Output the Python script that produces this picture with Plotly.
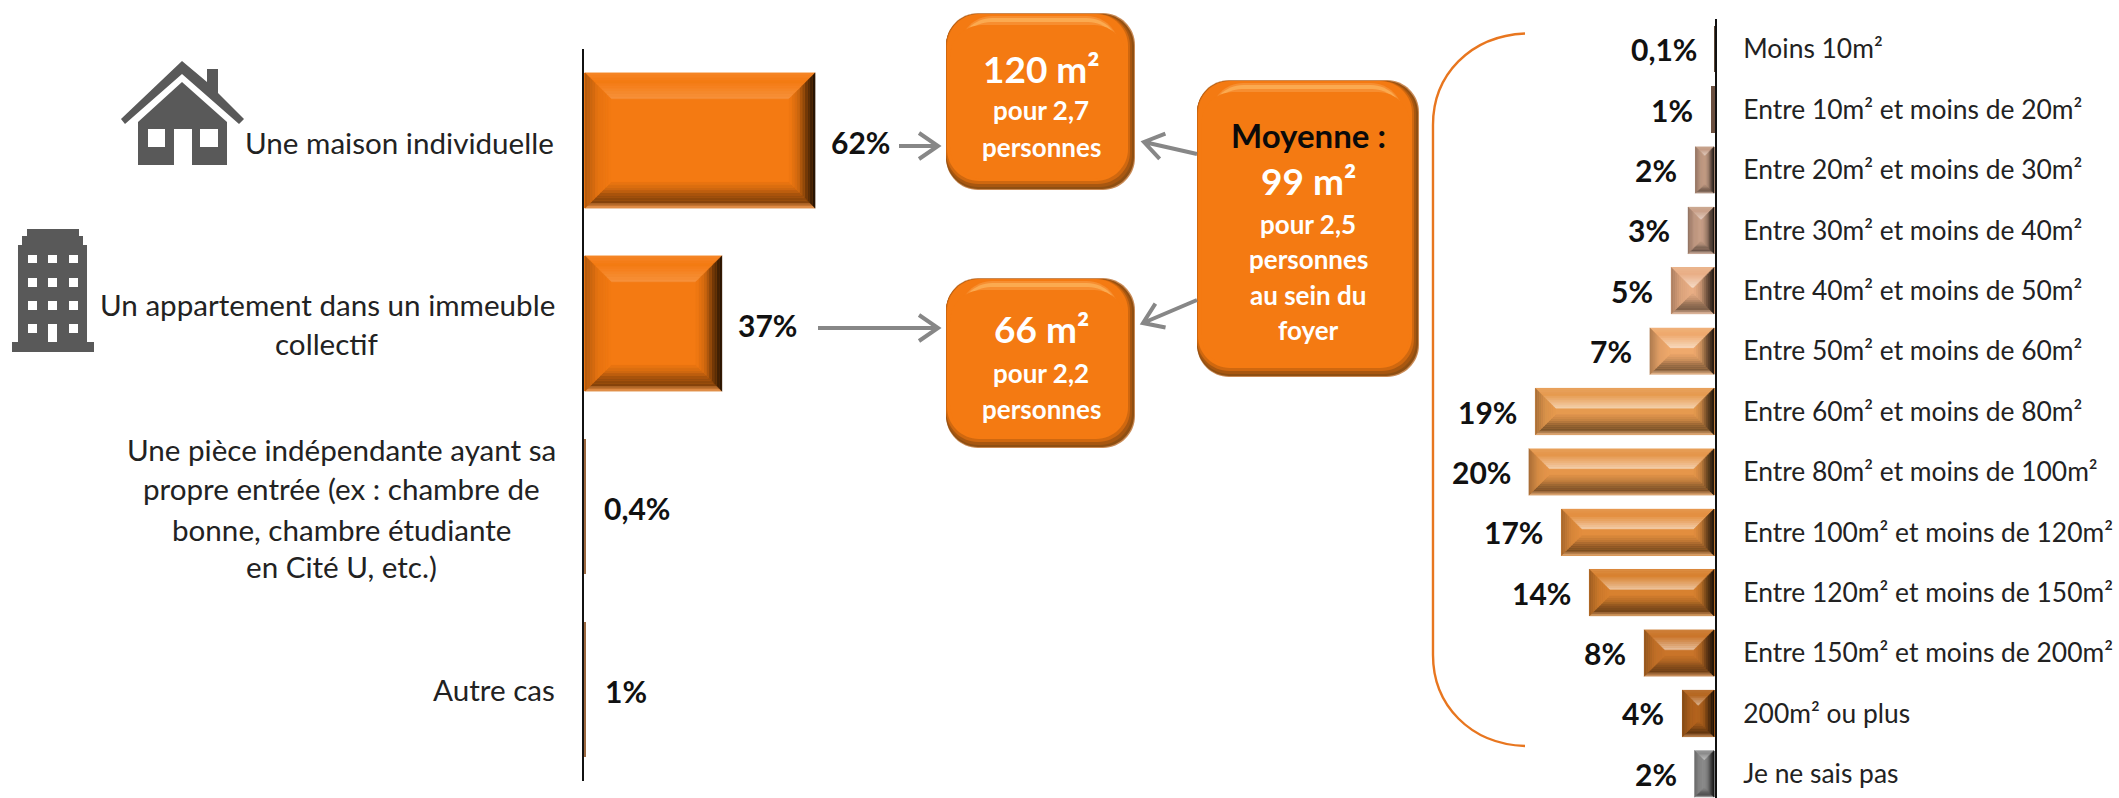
import math
import plotly.graph_objects as go

W, H = 2119, 798
FONT = "Lato"

# ---------- data ----------
type_labels = ["Une maison individuelle", "Un appartement dans un immeuble collectif",
               "Une pièce indépendante ayant sa propre entrée", "Autre cas"]
type_values = [62, 37, 0.4, 0.6]
type_text = ["62%", "37%", "0,4%", "1%"]

size_labels = ["Moins 10m²", "Entre 10m² et moins de 20m²", "Entre 20m² et moins de 30m²",
               "Entre 30m² et moins de 40m²", "Entre 40m² et moins de 50m²",
               "Entre 50m² et moins de 60m²", "Entre 60m² et moins de 80m²",
               "Entre 80m² et moins de 100m²", "Entre 100m² et moins de 120m²",
               "Entre 120m² et moins de 150m²", "Entre 150m² et moins de 200m²",
               "200m² ou plus", "Je ne sais pas"]
size_values = [0.05, 0.4, 2.1, 2.9, 4.7, 7.0, 19.3, 20.0, 16.5, 13.5, 7.6, 3.5, 2.2]
size_text = ["0,1%", "1%", "2%", "3%", "5%", "7%", "19%", "20%", "17%", "14%", "8%", "4%", "2%"]
size_colors = ["#5A4636", "#6B5040", "#C39C85", "#C9A088", "#E9AE85", "#EFA96C", "#E69A4F",
               "#E6964A", "#E38E3E", "#D8812F", "#C97429", "#B5651F", "#8C8C8C"]
type_colors = ["#F47A12", "#F47A12", "#9C6A42", "#9C6A42"]

# ---------- geometry ----------
L_X0, L_X1, L_MAX = 584, 880, 79.4
L_Y0, L_Y1 = 49, 781
R_X0, R_X1, R_MAX = 1500, 1715, 23.1
R_Y0, R_Y1, R_YMAX = 19, 798, 12.4


def px(x):
    return x / W


def py(y):
    return 1 - y / H


def hex2rgb(c):
    return tuple(int(c[i:i + 2], 16) for i in (1, 3, 5))


def mix(c, other, t):
    a, b = hex2rgb(c), hex2rgb(other)
    return "#%02X%02X%02X" % tuple(round(a[i] * (1 - t) + b[i] * t) for i in range(3))


def ramp(stops, t):
    n = len(stops) - 1
    p = min(t * n, n - 1e-6)
    i = int(p)
    return mix(stops[i], stops[i + 1], p - i)


shapes = []
annotations = []


def bevel(xref, yref, x_left, x_right, yc, half, sx, sy, depth, face, hi):
    """Bevel drawn over one bar. x_left / x_right are the on-screen sides; sx, sy = pixels per unit."""
    sign = 1 if x_right > x_left else -1
    y0, y1 = yc - half, yc + half
    wpx = abs(x_right - x_left) * sx
    hpx = (y1 - y0) * sy
    d = min(depth, wpx / 2, hpx / 2)
    dx, dy = sign * d / sx, d / sy
    K, WH = "#000000", "#FFFFFF"
    top = [mix(face, WH, .10), face, mix(face, WH, hi * .5), mix(face, WH, hi)]
    bottom = [mix(face, WH, .3), mix(face, K, .45), mix(face, K, .35), mix(face, K, .15), mix(face, K, .03)]
    left = [mix(face, K, .28), mix(face, K, .06), face]
    right = [mix(face, K, .88), mix(face, K, .55), mix(face, K, .15), face]
    n = 10
    for i in range(n):
        t0, t1 = i / n, (i + 1) / n
        tm = (t0 + t1) / 2
        a0, a1 = x_left + dx * t0, x_left + dx * t1
        b0, b1 = x_right - dx * t0, x_right - dx * t1
        polys = [
            (ramp(top, tm), [(a0, y0 + dy * t0), (b0, y0 + dy * t0), (b1, y0 + dy * t1), (a1, y0 + dy * t1)]),
            (ramp(bottom, tm), [(a0, y1 - dy * t0), (b0, y1 - dy * t0), (b1, y1 - dy * t1), (a1, y1 - dy * t1)]),
            (ramp(left, tm), [(a0, y0 + dy * t0), (a1, y0 + dy * t1), (a1, y1 - dy * t1), (a0, y1 - dy * t0)]),
            (ramp(right, tm), [(b0, y0 + dy * t0), (b1, y0 + dy * t1), (b1, y1 - dy * t1), (b0, y1 - dy * t0)]),
        ]
        for col, pts in polys:
            path = "M" + " L".join(f"{a:.4f},{b:.4f}" for a, b in pts) + " Z"
            shapes.append(dict(type="path", xref=xref, yref=yref, path=path, fillcolor=col,
                               line=dict(color=col, width=0.4), layer="above"))


L_SX = (L_X1 - L_X0) / L_MAX
L_SY = (L_Y1 - L_Y0) / 4
R_SX = (R_X1 - R_X0) / R_MAX
R_SY = (R_Y1 - R_Y0) / (R_YMAX + 0.5)
L_BAR, R_BAR = 0.74, 0.77
PCT = 30

for i, v in enumerate(type_values):
    if v * L_SX > 6:
        bevel("x", "y", 1 / L_SX, v, i, L_BAR / 2, L_SX, L_SY, 26, type_colors[i], .18)
    annotations.append(dict(x=v, y=i + 0.01, xref="x", yref="y", text=f"<b>{type_text[i]}</b>",
                            xanchor="left", xshift=[14, 14, 17, 17][i], showarrow=False,
                            font=dict(family=FONT, size=PCT, color="#111111")))

for i, v in enumerate(size_values):
    if v * R_SX > 6:
        bevel("x2", "y2", v, 1 / R_SX, i, R_BAR / 2, R_SX, R_SY, 20, size_colors[i], .55)
    annotations.append(dict(x=v, y=i, xref="x2", yref="y2", text=f"<b>{size_text[i]}</b>",
                            xanchor="right", xshift=-16, showarrow=False,
                            font=dict(family=FONT, size=PCT, color="#111111")))


def text(x, y, s, size, color="#222222", bold=False, anchor="center"):
    annotations.append(dict(x=px(x), y=py(y), xref="paper", yref="paper",
                            text=f"<b>{s}</b>" if bold else s, xanchor=anchor, yanchor="middle",
                            showarrow=False, font=dict(family=FONT, size=size, color=color)))


LBL = 29.6
text(556, 142, "Une maison individuelle", LBL, anchor="right")
text(327, 305, "Un appartement dans un immeuble", LBL)
text(327, 343, "collectif", LBL)
text(341, 449, "Une pièce indépendante ayant sa", LBL)
text(341, 488, "propre entrée (ex : chambre de", LBL)
text(341, 529, "bonne, chambre étudiante", LBL)
text(341, 566, "en Cité U, etc.)", LBL)
text(557, 689, "Autre cas", LBL, anchor="right")


def poly(pts, color):
    p = "M" + " L".join(f"{px(a):.5f},{py(b):.5f}" for a, b in pts) + " Z"
    shapes.append(dict(type="path", xref="paper", yref="paper", path=p, fillcolor=color,
                       line=dict(width=0), layer="above"))


def rrect(x0, y0, x1, y1, r):
    c = 0.45 * r
    pts = [f"M{px(x0 + r):.5f},{py(y0):.5f}", f"L{px(x1 - r):.5f},{py(y0):.5f}",
           f"C{px(x1 - c):.5f},{py(y0):.5f} {px(x1):.5f},{py(y0 + c):.5f} {px(x1):.5f},{py(y0 + r):.5f}",
           f"L{px(x1):.5f},{py(y1 - r):.5f}",
           f"C{px(x1):.5f},{py(y1 - c):.5f} {px(x1 - c):.5f},{py(y1):.5f} {px(x1 - r):.5f},{py(y1):.5f}",
           f"L{px(x0 + r):.5f},{py(y1):.5f}",
           f"C{px(x0 + c):.5f},{py(y1):.5f} {px(x0):.5f},{py(y1 - c):.5f} {px(x0):.5f},{py(y1 - r):.5f}",
           f"L{px(x0):.5f},{py(y0 + r):.5f}",
           f"C{px(x0):.5f},{py(y0 + c):.5f} {px(x0 + c):.5f},{py(y0):.5f} {px(x0 + r):.5f},{py(y0):.5f} Z"]
    return " ".join(pts)


def box(x0, y0, x1, y1):
    layers = [((0, 0, 0, 0), "#C98A55"), ((0, 1, -1, -1), "#8F4F12"), ((0, 1, -3, -3), "#A85710"),
              ((0, 1, -5, -6), "#D0680F"), ((1, 1, -7, -9), "#F47A12"),
              ((14, 3, -16, -40), "#F78E30"), ((14, 5, -16, -40), "#FBAA50"),
              ((13, 9, -15, -40), "#F78E30"), ((4, 12, -9, -11), "#F47A12")]
    for (a, b, c, d), col in layers:
        shapes.append(dict(type="path", xref="paper", yref="paper", layer="above",
                           path=rrect(x0 + a, y0 + b, x1 + c, y1 + d, 32), fillcolor=col,
                           line=dict(width=0)))


box(946, 13, 1135, 190)
box(946, 278, 1135, 448)
box(1197, 80, 1419, 377)

WT = "#FFFFFF"
SUB = 26
text(1041, 68, "120 m²", 37, WT, True)
text(1041, 110, "pour 2,7", SUB, WT, True)
text(1041, 147, "personnes", SUB, WT, True)
text(1041, 328, "66 m²", 37, WT, True)
text(1041, 373, "pour 2,2", SUB, WT, True)
text(1041, 409, "personnes", SUB, WT, True)
text(1308, 135, "Moyenne :", 33, "#0A0A0A", True)
text(1308, 180, "99 m²", 37, WT, True)
text(1308, 224, "pour 2,5", SUB, WT, True)
text(1308, 259, "personnes", SUB, WT, True)
text(1308, 295, "au sein du", SUB, WT, True)
text(1308, 330, "foyer", SUB, WT, True)


def arrow(x0, y0, x1, y1):
    a = math.atan2(y1 - y0, x1 - x0)
    hl = 23
    hx0 = x1 - hl * math.cos(a - 0.6)
    hy0 = y1 - hl * math.sin(a - 0.6)
    hx1 = x1 - hl * math.cos(a + 0.6)
    hy1 = y1 - hl * math.sin(a + 0.6)
    p = (f"M{px(x0):.5f},{py(y0):.5f} L{px(x1):.5f},{py(y1):.5f} "
         f"M{px(hx0):.5f},{py(hy0):.5f} L{px(x1):.5f},{py(y1):.5f} L{px(hx1):.5f},{py(hy1):.5f}")
    shapes.append(dict(type="path", xref="paper", yref="paper", path=p, layer="above",
                       line=dict(color="#878787", width=4)))


arrow(899, 146, 938, 146)
arrow(818, 328, 938, 328)
arrow(1197, 154, 1144, 142)
arrow(1197, 300, 1143, 323)

# bracket
b = (f"M{px(1525):.5f},{py(33.5):.5f} C{px(1470):.5f},{py(36):.5f} {px(1433):.5f},{py(75):.5f} {px(1433):.5f},{py(125):.5f} "
     f"L{px(1433):.5f},{py(655):.5f} C{px(1433):.5f},{py(705):.5f} {px(1470):.5f},{py(744):.5f} {px(1525):.5f},{py(746):.5f}")
shapes.append(dict(type="path", xref="paper", yref="paper", path=b, layer="above",
                   line=dict(color="#E8761F", width=2.4)))

# icons
G, WHT = "#595959", "#FFFFFF"
poly([(182, 61), (207, 82), (207, 69), (218, 69), (218, 93), (244, 119), (239, 124), (182, 74),
      (125, 124), (121, 119)], G)
poly([(182, 82), (227, 122), (227, 165), (192, 165), (192, 129), (174, 129), (174, 165), (138, 165),
      (138, 122)], G)
poly([(148, 129), (165, 129), (165, 147), (148, 147)], WHT)
poly([(200, 129), (218, 129), (218, 147), (200, 147)], WHT)
poly([(12, 342), (94, 342), (94, 352), (12, 352)], G)
poly([(18, 245), (22, 245), (22, 236), (27, 236), (27, 229), (79, 229), (79, 236), (83, 236),
      (83, 245), (87, 245), (87, 342), (18, 342)], G)
for wy0, wy1 in [(255, 263), (278, 287), (301, 310), (324, 333)]:
    for wx0, wx1 in [(28, 37), (48, 57), (69, 78)]:
        bottom_y = 342 if (wy0 == 324 and wx0 == 48) else wy1
        poly([(wx0, wy0), (wx1, wy0), (wx1, bottom_y), (wx0, bottom_y)], WHT)

fig = go.Figure()
fig.add_trace(go.Bar(x=type_values, y=list(range(len(type_labels))), orientation="h",
                     marker=dict(color=type_colors, line=dict(width=0)), width=L_BAR,
                     xaxis="x", yaxis="y", name="Type de logement",
                     customdata=type_labels, hovertemplate="%{customdata}: %{x}%<extra></extra>"))
fig.add_trace(go.Bar(x=size_values, y=list(range(len(size_labels))), orientation="h",
                     marker=dict(color=size_colors, line=dict(width=0)), width=R_BAR,
                     xaxis="x2", yaxis="y2", name="Surface",
                     customdata=size_labels, hovertemplate="%{customdata}: %{x}%<extra></extra>"))

fig.update_layout(
    width=W, height=H, margin=dict(l=0, r=0, t=0, b=0, pad=0, autoexpand=False),
    paper_bgcolor="white", plot_bgcolor="rgba(0,0,0,0)", showlegend=False, bargap=0,
    xaxis=dict(domain=[px(L_X0), px(L_X1)], range=[0, L_MAX], visible=False, anchor="y"),
    yaxis=dict(domain=[py(L_Y1), py(L_Y0)], range=[3.5, -0.5], anchor="x", showgrid=False,
               zeroline=False, showline=True, linecolor="#111111", linewidth=2,
               showticklabels=False, ticks=""),
    xaxis2=dict(domain=[px(R_X0), px(R_X1)], range=[R_MAX, 0], visible=False, anchor="y2"),
    yaxis2=dict(domain=[0, py(R_Y0)], range=[R_YMAX, -0.5], anchor="x2", side="right", showgrid=False,
                zeroline=False, showline=True, linecolor="#111111", linewidth=2,
                tickmode="array", tickvals=list(range(len(size_labels))), ticktext=size_labels,
                ticks="outside", ticklen=21, tickcolor="rgba(0,0,0,0)",
                tickfont=dict(family=FONT, size=26.4, color="#222222")),
    shapes=shapes, annotations=annotations,
)
fig.write_html("out.html", config=dict(displayModeBar=False),
               post_script="document.body.style.margin='0';document.body.style.overflow='hidden';")
